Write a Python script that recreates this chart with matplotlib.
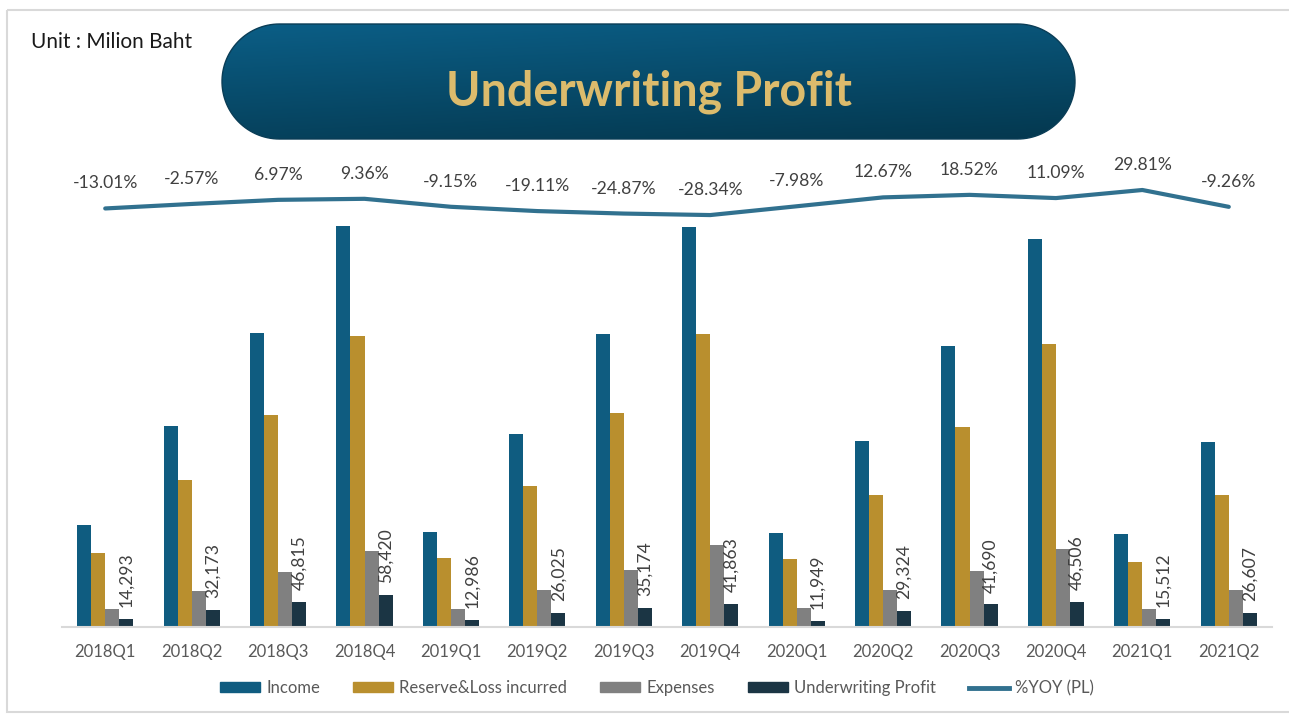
#!/usr/bin/env python3
"""Underwriting profit by quarter with %YOY line, saved as out.png."""

import numpy as np
import matplotlib.pyplot as plt
from matplotlib.colors import LinearSegmentedColormap
from matplotlib.lines import Line2D
from matplotlib.patches import Patch, Polygon, Rectangle

plt.rcParams["font.family"] = ["Lato", "DejaVu Sans"]

QUARTERS = [
    "2018Q1", "2018Q2", "2018Q3", "2018Q4",
    "2019Q1", "2019Q2", "2019Q3", "2019Q4",
    "2020Q1", "2020Q2", "2020Q3", "2020Q4",
    "2021Q1", "2021Q2",
]
INCOME = [187700, 370600, 541000, 738000, 175500, 356000, 539000,
          736000, 173700, 342000, 517000, 714000, 172000, 340000]
RESERVE_LOSS = [136000, 270000, 391000, 535000, 127000, 259000, 394500,
                539000, 125000, 243600, 368700, 520700, 119600, 243600]
EXPENSES = [32600, 65700, 101000, 140000, 32600, 67500, 105600,
            151600, 34400, 67500, 103000, 144000, 32600, 67500]
UW_PROFIT = [14293, 32173, 46815, 58420, 12986, 26025, 35174,
             41863, 11949, 29324, 41690, 46506, 15512, 26607]
YOY_PL = [-13.01, -2.57, 6.97, 9.36, -9.15, -19.11, -24.87,
          -28.34, -7.98, 12.67, 18.52, 11.09, 29.81, -9.26]

COLORS = {
    "Income": "#0f5c80",
    "Reserve&Loss incurred": "#b98f2e",
    "Expenses": "#808080",
    "Underwriting Profit": "#1b3544",
}
LINE_COLOR = "#31718f"
LABEL_COLOR = "#404040"
TEXT_GREY = "#595959"

W, H = 1289, 714

fig = plt.figure(figsize=(W / 100, H / 100), dpi=100)

# background layer in pixel coordinates (frame, title banner, unit note)
bg = fig.add_axes([0, 0, 1, 1], zorder=0)
bg.set_xlim(0, W)
bg.set_ylim(H, 0)
bg.axis("off")
bg.add_patch(Rectangle((7, 10), W, H - 12, fill=False, edgecolor="#d9d9d9", lw=1.5))

# pill-shaped banner: two half circles joined by straight edges
left, right, top, bottom = 222, 1075, 24, 139
r = (bottom - top) / 2
cy = top + r
t_left = np.linspace(np.pi / 2, 3 * np.pi / 2, 60)
t_right = np.linspace(-np.pi / 2, np.pi / 2, 60)
pts = np.vstack([
    np.column_stack([left + r + r * np.cos(t_left), cy - r * np.sin(t_left)]),
    np.column_stack([right - r + r * np.cos(t_right), cy - r * np.sin(t_right)]),
])
pill = Polygon(pts, closed=True, facecolor="none", edgecolor="#0a3d56", lw=1.0, zorder=3)
bg.add_patch(pill)
yy, xx = np.mgrid[0:1:100j, 0:1:300j]
grad = 0.75 * yy + 0.25 * xx
banner_cmap = LinearSegmentedColormap.from_list("banner", ["#0b5e86", "#04384f"])
bg.imshow(grad, extent=[left, right, bottom, top], cmap=banner_cmap, aspect="auto",
          clip_path=pill, zorder=2)
bg.text(649, 106, "Underwriting Profit", ha="center", va="baseline", fontsize=33.5,
        fontweight="bold", color="#dcbb6c", zorder=4)
bg.text(31, 42, "Unit : Milion Baht", ha="left", va="center", fontsize=15, color="#1a1a1a")

# main chart
ax = fig.add_axes([62 / W, 87 / H, 1210 / W, 477 / H], zorder=1)
ax.patch.set_alpha(0)
x = np.arange(len(QUARTERS))
w = 0.162
series = [
    ("Income", INCOME),
    ("Reserve&Loss incurred", RESERVE_LOSS),
    ("Expenses", EXPENSES),
    ("Underwriting Profit", UW_PROFIT),
]
for i, (name, vals) in enumerate(series):
    ax.bar(x + (i - 1.5) * w, vals, width=w, color=COLORS[name], label=name)

for xi, v in zip(x + 1.5 * w, UW_PROFIT):
    ax.annotate(f"{v:,}", (xi, v), xytext=(0, 8.5), textcoords="offset points",
                rotation=90, ha="center", va="bottom", fontsize=12.6, color=LABEL_COLOR)

ax.set_xlim(-0.5, len(QUARTERS) - 0.5)
ax.set_ylim(0, 878000)
ax.set_xticks(x, QUARTERS, fontsize=12, color=TEXT_GREY)
ax.tick_params(axis="x", length=0, pad=12)
ax.set_yticks([])
for side in ["top", "right", "left"]:
    ax.spines[side].set_visible(False)
ax.spines["bottom"].set_color("#d9d9d9")
ax.spines["bottom"].set_linewidth(1.5)

ax2 = ax.twinx()
ax2.set_ylim(-984, 122.6)
ax2.plot(x, YOY_PL, color=LINE_COLOR, lw=3, solid_capstyle="round")
for xi, v in zip(x, YOY_PL):
    ax2.annotate(f"{v:.2f}%", (xi, v), xytext=(0, 18), textcoords="offset points",
                 ha="center", va="center", fontsize=12.6, color=LABEL_COLOR)
ax2.set_yticks([])
for side in ["top", "right", "left", "bottom"]:
    ax2.spines[side].set_visible(False)

handles = [Patch(color=COLORS[name]) for name, _ in series]
handles.append(Line2D([], [], color=LINE_COLOR, lw=3.5))
labels = [name for name, _ in series] + ["%YOY (PL)"]
leg = fig.legend(handles, labels, loc="center", bbox_to_anchor=(657 / W, 1 - 688 / H), ncol=5,
                 frameon=False, fontsize=12, handlelength=2.4, handleheight=0.55,
                 handletextpad=0.35, columnspacing=2.0)
for t in leg.get_texts():
    t.set_color(TEXT_GREY)

fig.savefig("out.png", dpi=100)
